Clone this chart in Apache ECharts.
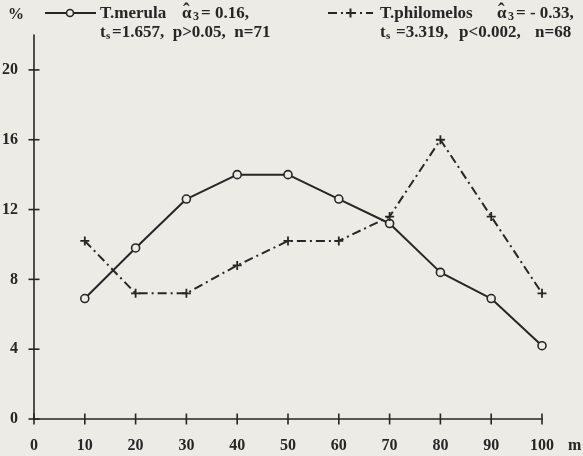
<!DOCTYPE html>
<html>
<head>
<meta charset="utf-8">
<script src="https://cdn.jsdelivr.net/npm/echarts@6/dist/echarts.min.js"></script>
<style>
  html, body { margin: 0; padding: 0; background: #ecebe6; }
  #chart { width: 583px; height: 456px; }
</style>
</head>
<body>
<div id="chart"></div>
<script>
// distance (m) and share of nests (%)
const distances = [10, 20, 30, 40, 50, 60, 70, 80, 90, 100];
const merula = [6.9, 9.8, 12.6, 14.0, 14.0, 12.6, 11.2, 8.4, 6.9, 4.2];
const philomelos = [10.2, 7.2, 7.2, 8.8, 10.2, 10.2, 11.6, 16.0, 11.6, 7.2];
const xTicks = [0, 10, 20, 30, 40, 50, 60, 70, 80, 90, 100];
const yTicks = [0, 4, 8, 12, 16, 20];

const ink = '#262626';
const paper = '#ecebe6';
const serif = 'Liberation Serif';
const dashDot = [9, 4, 2, 4];

let chartDom = document.getElementById('chart');
let myChart = echarts.init(chartDom);

function txt(x, y, s, size) {
  return {
    type: 'text',
    x: x,
    y: y,
    style: { text: s, fontFamily: serif, fontWeight: 'bold', fontSize: size || 17, fill: ink }
  };
}

// small cross marks sitting on the axes, drawn from the tick values
function crossTicks(name, values, vertical) {
  return {
    name: name,
    type: 'custom',
    clip: false,
    z: 5,
    data: values,
    renderItem: function (params, api) {
      let v = api.value(0);
      let p = vertical ? api.coord([0, v]) : api.coord([v, 0]);
      let shape = vertical
        ? { x1: p[0] - 5.5, y1: p[1], x2: p[0] + 5.5, y2: p[1] }
        : { x1: p[0], y1: p[1] - 5.5, x2: p[0], y2: p[1] + 5.5 };
      return { type: 'line', shape: shape, style: { stroke: ink, lineWidth: 1.6 } };
    }
  };
}

let option = {
  backgroundColor: paper,
  animation: false,
  grid: {
    left: 34,
    right: 41,
    top: 35,
    bottom: 37,
    containLabel: false,
    outerBoundsMode: 'none'
  },
  graphic: [
    // key for T.merula
    { type: 'line', shape: { x1: 45, y1: 13, x2: 96, y2: 13 }, style: { stroke: ink, lineWidth: 2 } },
    { type: 'circle', shape: { cx: 70, cy: 13, r: 3.5 }, style: { fill: paper, stroke: ink, lineWidth: 1.6 } },
    txt(100, 5, 'T.merula'),
    txt(182, 5, 'α'),
    txt(183, 3, 'ˆ', 20),
    txt(193, 11, '3', 12),
    txt(201, 5, '= 0.16,'),
    txt(100, 24, 't'),
    txt(106, 31, 's', 11),
    txt(112, 24, '=1.657,  p>0.05,  n=71'),

    // key for T.philomelos
    { type: 'line', shape: { x1: 328, y1: 13, x2: 373, y2: 13 }, style: { stroke: ink, lineWidth: 2, lineDash: dashDot } },
    { type: 'rect', shape: { x: 346, y: 12, width: 9, height: 2 }, style: { fill: ink } },
    { type: 'rect', shape: { x: 349.5, y: 8.5, width: 2, height: 9 }, style: { fill: ink } },
    txt(380, 5, 'T.philomelos'),
    txt(497, 5, 'α'),
    txt(498, 3, 'ˆ', 20),
    txt(508, 11, '3', 12),
    txt(516, 5, '= - 0.33,'),
    txt(380, 24, 't'),
    txt(386, 31, 's', 11),
    txt(396, 24, '=3.319,'),
    txt(459, 24, 'p<0.002,'),
    txt(535, 24, 'n=68')
  ],
  xAxis: {
    type: 'value',
    min: 0,
    max: 100,
    interval: 10,
    name: 'm',
    nameLocation: 'end',
    nameGap: 26,
    nameTextStyle: { fontFamily: serif, fontWeight: 'bold', fontSize: 16, color: ink, verticalAlign: 'top', padding: [19, 0, 0, 0] },
    axisLine: { lineStyle: { color: ink, width: 1.6 } },
    axisTick: { show: false },
    splitLine: { show: false },
    axisLabel: { margin: 19, fontFamily: serif, fontWeight: 'bold', fontSize: 16, color: ink, customValues: xTicks }
  },
  yAxis: {
    type: 'value',
    min: 0,
    max: 22,
    interval: 4,
    name: '%',
    nameLocation: 'end',
    nameGap: 12,
    nameTextStyle: { fontFamily: serif, fontWeight: 'bold', fontSize: 16, color: ink, align: 'right', padding: [0, 10, 0, 0] },
    axisLine: { lineStyle: { color: ink, width: 1.6 } },
    axisTick: { show: false },
    splitLine: { show: false },
    axisLabel: { margin: 16, fontFamily: serif, fontWeight: 'bold', fontSize: 16, color: ink, customValues: yTicks }
  },
  series: [
    {
      name: 'T.merula',
      type: 'line',
      data: distances.map(function (d, i) { return [d, merula[i]]; }),
      symbol: 'circle',
      symbolSize: 8,
      showAllSymbol: true,
      lineStyle: { color: ink, width: 2 },
      itemStyle: { color: paper, borderColor: ink, borderWidth: 1.6 }
    },
    {
      name: 'T.philomelos',
      type: 'line',
      data: distances.map(function (d, i) { return [d, philomelos[i]]; }),
      symbol: 'path://M4,0h2v10h-2z M0,4h10v2h-10z',
      symbolSize: 9,
      showAllSymbol: true,
      lineStyle: { color: ink, width: 2, type: dashDot },
      itemStyle: { color: ink }
    },
    crossTicks('yticks', yTicks, true),
    crossTicks('xticks', xTicks, false)
  ]
};

myChart.setOption(option);
window.addEventListener('resize', () => {
  myChart.resize();
});
</script>
</body>
</html>
